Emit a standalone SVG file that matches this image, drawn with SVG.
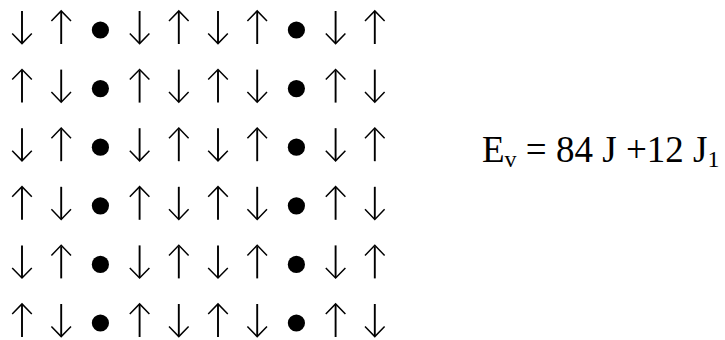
<svg xmlns="http://www.w3.org/2000/svg" width="725" height="340" viewBox="0 0 725 340">
  <style>
    .arr { stroke: #000; fill: none; stroke-linecap: butt; }
    .shaft { stroke-width: 1.9; }
    .head { stroke-width: 1.5; stroke-linejoin: miter; }
    .eq { font-family: "Liberation Serif", "Times New Roman", serif; font-size: 37px; fill: #000; }
    .sub { font-size: 24px; }
  </style>
  <defs>
    <!-- spin symbols drawn about a cell centre at (0,0) -->
    <g id="up" class="arr">
      <line class="shaft" x1="0" y1="-15.5" x2="0" y2="16.5"/>
      <polyline class="head" points="-9.8,-6.5 0,-16.6 9.8,-6.5"/>
    </g>
    <g id="dn" class="arr">
      <line class="shaft" x1="0" y1="-16.5" x2="0" y2="15.5"/>
      <polyline class="head" points="-9.8,6 0,16.1 9.8,6"/>
    </g>
    <circle id="vac" cx="0" cy="2.5" r="8.6" fill="#000"/>
  </defs>
  <rect width="725" height="340" fill="#fff"/>
  <!-- spin lattice: 6 rows x 10 columns, pitch 39.2 x 58.6 -->
  <g id="row1" transform="translate(0,27.5)">
    <use href="#dn" x="22"/><use href="#up" x="61.2"/><use href="#vac" x="100.4"/><use href="#dn" x="139.6"/><use href="#up" x="178.8"/>
    <use href="#dn" x="218"/><use href="#up" x="257.2"/><use href="#vac" x="296.4"/><use href="#dn" x="335.6"/><use href="#up" x="374.8"/>
  </g>
  <g id="row2" transform="translate(0,86.1)">
    <use href="#up" x="22"/><use href="#dn" x="61.2"/><use href="#vac" x="100.4"/><use href="#up" x="139.6"/><use href="#dn" x="178.8"/>
    <use href="#up" x="218"/><use href="#dn" x="257.2"/><use href="#vac" x="296.4"/><use href="#up" x="335.6"/><use href="#dn" x="374.8"/>
  </g>
  <g id="row3" transform="translate(0,144.7)">
    <use href="#dn" x="22"/><use href="#up" x="61.2"/><use href="#vac" x="100.4"/><use href="#dn" x="139.6"/><use href="#up" x="178.8"/>
    <use href="#dn" x="218"/><use href="#up" x="257.2"/><use href="#vac" x="296.4"/><use href="#dn" x="335.6"/><use href="#up" x="374.8"/>
  </g>
  <g id="row4" transform="translate(0,203.3)">
    <use href="#up" x="22"/><use href="#dn" x="61.2"/><use href="#vac" x="100.4"/><use href="#up" x="139.6"/><use href="#dn" x="178.8"/>
    <use href="#up" x="218"/><use href="#dn" x="257.2"/><use href="#vac" x="296.4"/><use href="#up" x="335.6"/><use href="#dn" x="374.8"/>
  </g>
  <g id="row5" transform="translate(0,261.9)">
    <use href="#dn" x="22"/><use href="#up" x="61.2"/><use href="#vac" x="100.4"/><use href="#dn" x="139.6"/><use href="#up" x="178.8"/>
    <use href="#dn" x="218"/><use href="#up" x="257.2"/><use href="#vac" x="296.4"/><use href="#dn" x="335.6"/><use href="#up" x="374.8"/>
  </g>
  <g id="row6" transform="translate(0,320.5)">
    <use href="#up" x="22"/><use href="#dn" x="61.2"/><use href="#vac" x="100.4"/><use href="#up" x="139.6"/><use href="#dn" x="178.8"/>
    <use href="#up" x="218"/><use href="#dn" x="257.2"/><use href="#vac" x="296.4"/><use href="#up" x="335.6"/><use href="#dn" x="374.8"/>
  </g>
  <!-- energy of this configuration -->
  <g id="energy">
    <text class="eq" x="482" y="162">E<tspan class="sub" dy="5">v</tspan><tspan dy="-5"> = 84 J +12 J</tspan><tspan class="sub" dy="5">1</tspan></text>
  </g>
</svg>
